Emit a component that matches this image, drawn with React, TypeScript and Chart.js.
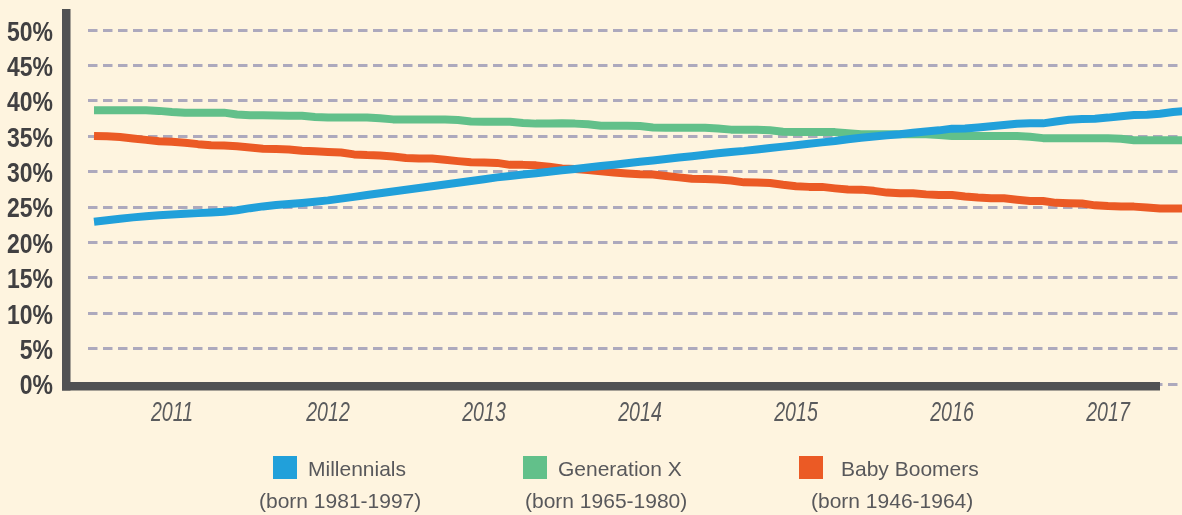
import React, { useEffect, useRef } from 'react';
import { Chart, registerables } from 'chart.js';

Chart.register(...registerables);

const MONTHS = [
  '2011-01', '2011-02', '2011-03', '2011-04', '2011-05', '2011-06', '2011-07', '2011-08', '2011-09', '2011-10', '2011-11', '2011-12',
  '2012-01', '2012-02', '2012-03', '2012-04', '2012-05', '2012-06', '2012-07', '2012-08', '2012-09', '2012-10', '2012-11', '2012-12',
  '2013-01', '2013-02', '2013-03', '2013-04', '2013-05', '2013-06', '2013-07', '2013-08', '2013-09', '2013-10', '2013-11', '2013-12',
  '2014-01', '2014-02', '2014-03', '2014-04', '2014-05', '2014-06', '2014-07', '2014-08', '2014-09', '2014-10', '2014-11', '2014-12',
  '2015-01', '2015-02', '2015-03', '2015-04', '2015-05', '2015-06', '2015-07', '2015-08', '2015-09', '2015-10', '2015-11', '2015-12',
  '2016-01', '2016-02', '2016-03', '2016-04', '2016-05', '2016-06', '2016-07', '2016-08', '2016-09', '2016-10', '2016-11', '2016-12',
  '2017-01', '2017-02', '2017-03', '2017-04', '2017-05', '2017-06', '2017-07', '2017-08', '2017-09', '2017-10', '2017-11', '2017-12',
  '2018-01',
];

const MILLENNIALS = [
  22.94, 23.15, 23.35, 23.55, 23.72, 23.85, 23.95, 24.05, 24.15, 24.25, 24.35, 24.55,
  24.85, 25.1, 25.3, 25.45, 25.58, 25.75, 25.95, 26.2, 26.45, 26.7, 26.95, 27.2,
  27.45, 27.7, 27.95, 28.2, 28.45, 28.7, 28.95, 29.2, 29.4, 29.6, 29.8, 30.0,
  30.2, 30.4, 30.6, 30.8, 31.0, 31.2, 31.4, 31.6, 31.8, 32.0, 32.2, 32.4,
  32.6, 32.8, 32.95, 33.15, 33.35, 33.55, 33.75, 33.95, 34.15, 34.35, 34.6, 34.8,
  34.98, 35.15, 35.3, 35.5, 35.7, 35.85, 36.09, 36.12, 36.25, 36.42, 36.6, 36.78,
  36.84, 36.84, 37.1, 37.35, 37.45, 37.5, 37.65, 37.85, 38.02, 38.07, 38.2, 38.45,
  38.6,
];

const GENERATION_X = [
  38.7, 38.7, 38.7, 38.7, 38.7, 38.6, 38.45, 38.35, 38.35, 38.35, 38.35, 38.1,
  38.0, 38.0, 37.95, 37.9, 37.9, 37.75, 37.65, 37.65, 37.65, 37.65, 37.55, 37.4,
  37.37, 37.37, 37.37, 37.37, 37.3, 37.1, 37.08, 37.08, 37.05, 36.9, 36.8, 36.8,
  36.85, 36.8, 36.7, 36.5, 36.5, 36.5, 36.45, 36.25, 36.2, 36.2, 36.2, 36.2,
  36.1, 35.95, 35.95, 35.95, 35.85, 35.65, 35.62, 35.62, 35.62, 35.6, 35.45, 35.3,
  35.3, 35.3, 35.3, 35.3, 35.3, 35.2, 35.05, 35.05, 35.05, 35.05, 35.05, 35.05,
  34.95, 34.75, 34.73, 34.73, 34.73, 34.73, 34.73, 34.65, 34.45, 34.44, 34.44, 34.44,
  34.44,
];

const BABY_BOOMERS = [
  35.05, 35.0, 34.9, 34.7, 34.5, 34.32, 34.25, 34.1, 33.9, 33.75, 33.7, 33.6,
  33.42, 33.25, 33.2, 33.15, 32.98, 32.9, 32.8, 32.72, 32.45, 32.35, 32.3, 32.15,
  31.95, 31.88, 31.86, 31.7, 31.5, 31.33, 31.3, 31.25, 30.97, 30.97, 30.9, 30.7,
  30.45, 30.4, 30.25, 30.05, 29.9, 29.75, 29.63, 29.6, 29.4, 29.2, 29.0, 28.96,
  28.9, 28.75, 28.5, 28.47, 28.4, 28.15, 27.95, 27.86, 27.86, 27.65, 27.48, 27.47,
  27.3, 27.05, 26.96, 26.96, 26.8, 26.72, 26.7, 26.5, 26.35, 26.25, 26.25, 26.05,
  25.87, 25.87, 25.6, 25.54, 25.5, 25.25, 25.15, 25.1, 25.07, 24.95, 24.82, 24.79,
  24.79,
];

const Y_TICKS = [0, 5, 10, 15, 20, 25, 30, 35, 40, 45, 50];
const X_TICK_MONTHS = ['2011-07', '2012-07', '2013-07', '2014-07', '2015-07', '2016-07', '2017-07'];
const X_TICK_LABELS = ['2011', '2012', '2013', '2014', '2015', '2016', '2017'];

const SERIES_NAMES = ['Millennials', 'Generation X', 'Baby Boomers'];
const SERIES_BORN = ['(born 1981-1997)', '(born 1965-1980)', '(born 1946-1964)'];
const SERIES_COLORS = ['#21A0DA', '#62C08A', '#EB5A25'];

const BG = '#FEF4DF';
const AXIS_COLOR = '#505153';
const SANS = "'Liberation Sans', Arial, Helvetica, sans-serif";

const axisPlugin = {
  id: 'axisDecor',
  beforeDraw(chart: any) {
    const { ctx } = chart;
    ctx.save();
    ctx.fillStyle = BG;
    ctx.fillRect(0, 0, chart.width, chart.height);
    ctx.restore();
  },
  afterDraw(chart: any) {
    const { ctx, chartArea, scales } = chart;
    const xs = scales.x;
    const ys = scales.y;
    const y0 = ys.getPixelForValue(0);
    ctx.save();
    // axis bars
    ctx.fillStyle = AXIS_COLOR;
    ctx.fillRect(62, chartArea.top, 8.5, y0 + 6.5 - chartArea.top);
    ctx.fillRect(62, y0 - 2, 1098, 8.5);

    // y tick labels (condensed bold)
    ctx.fillStyle = '#414042';
    ctx.font = `bold 28px ${SANS}`;
    ctx.textAlign = 'right';
    ctx.textBaseline = 'alphabetic';
    Y_TICKS.forEach((v) => {
      const py = ys.getPixelForValue(v);
      ctx.save();
      ctx.translate(53, py + 10.3);
      ctx.scale(0.82, 1);
      ctx.fillText(`${v}%`, 0, 0);
      ctx.restore();
    });

    // x tick labels (condensed italic)
    ctx.fillStyle = '#5A5B5D';
    ctx.font = `italic 28px ${SANS}`;
    ctx.textAlign = 'center';
    X_TICK_MONTHS.forEach((m, i) => {
      const px = xs.getPixelForValue(MONTHS.indexOf(m));
      ctx.save();
      ctx.translate(px, 421);
      ctx.scale(0.7, 1);
      ctx.fillText(X_TICK_LABELS[i], 0, 0);
      ctx.restore();
    });
    ctx.restore();
  },
};

export default function App() {
  const canvasRef = useRef<HTMLCanvasElement | null>(null);

  useEffect(() => {
    const canvas = canvasRef.current;
    if (!canvas) return;
    const seriesValues = [MILLENNIALS, GENERATION_X, BABY_BOOMERS];
    const tickIdx = X_TICK_MONTHS.map((m) => MONTHS.indexOf(m));
    const chart = new Chart(canvas, {
      type: 'line',
      data: {
        datasets: seriesValues.map((vals, s) => ({
          label: SERIES_NAMES[s],
          data: MONTHS.map((_, i) => ({ x: i, y: vals[i] })),
          borderColor: SERIES_COLORS[s],
          backgroundColor: SERIES_COLORS[s],
          borderWidth: 8,
          pointRadius: 0,
          tension: 0,
          borderJoinStyle: 'round' as const,
          fill: false,
        })),
      },
      options: {
        animation: false,
        responsive: false,
        devicePixelRatio: 1,
        layout: { padding: { top: 9, left: 0, right: 0, bottom: 0 } },
        plugins: {
          legend: { display: false },
          tooltip: { enabled: false },
        },
        scales: {
          x: {
            type: 'linear',
            min: -6 / 13,
            max: -6 / 13 + 1094 / 13,
            afterBuildTicks: (scale: any) => {
              scale.ticks = tickIdx.map((v) => ({ value: v }));
            },
            afterFit: (scale: any) => {
              scale.height = 131;
              scale.paddingLeft = 0;
              scale.paddingRight = 0;
            },
            grid: { display: false, drawTicks: false },
            border: { display: false },
            ticks: {
              display: false,
              autoSkip: false,
              callback: (v: any) => X_TICK_LABELS[tickIdx.indexOf(Number(v))] ?? '',
            },
          },
          y: {
            type: 'linear',
            min: 0,
            max: 53,
            afterBuildTicks: (scale: any) => {
              scale.ticks = Y_TICKS.map((v) => ({ value: v }));
            },
            afterFit: (scale: any) => {
              scale.width = 88;
              scale.paddingTop = 0;
              scale.paddingBottom = 0;
            },
            grid: {
              color: '#ADA9BD',
              lineWidth: 3,
              drawTicks: false,
            },
            border: { display: false, dash: [9.5, 5.5] },
            ticks: {
              display: false,
              autoSkip: false,
              callback: (v: any) => `${v}%`,
            },
          },
        },
      },
      plugins: [axisPlugin],
    } as any);
    return () => chart.destroy();
  }, []);

  const legendBoxX = [273, 523, 799];
  const nameX = [308, 558, 841];
  const bornX = [259, 525, 811];

  return (
    <div style={{ position: 'fixed', left: 0, top: 0, width: 1182, height: 515, background: BG, overflow: 'hidden' }}>
      <canvas ref={canvasRef} width={1182} height={515} style={{ display: 'block', width: 1182, height: 515 }} />
      {SERIES_NAMES.map((name, i) => (
        <React.Fragment key={name}>
          <div style={{ position: 'absolute', left: legendBoxX[i], top: 456, width: 24, height: 23, background: SERIES_COLORS[i] }} />
          <div style={{ position: 'absolute', left: nameX[i], top: 458.2, font: `21px/1 ${SANS}`, color: '#58585B', whiteSpace: 'nowrap' }}>{name}</div>
          <div style={{ position: 'absolute', left: bornX[i], top: 490.2, font: `21px/1 ${SANS}`, color: '#58585B', whiteSpace: 'nowrap' }}>{SERIES_BORN[i]}</div>
        </React.Fragment>
      ))}
    </div>
  );
}
